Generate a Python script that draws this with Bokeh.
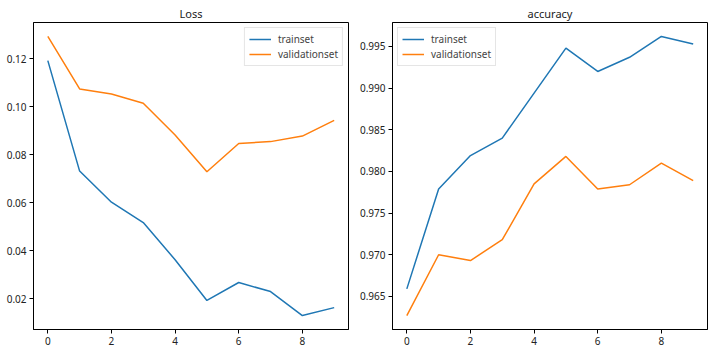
from bokeh.plotting import figure
from bokeh.layouts import row
from bokeh.models import FixedTicker, PrintfTickFormatter, Range1d, Legend, LegendItem
from bokeh.embed import file_html
from bokeh.resources import INLINE

epochs = [0, 1, 2, 3, 4, 5, 6, 7, 8, 9]
loss_train = [0.1193, 0.0732, 0.0602, 0.0517, 0.0362, 0.0192, 0.0267, 0.0229, 0.0129, 0.0162]
loss_val = [0.1294, 0.1075, 0.1054, 0.1015, 0.0883, 0.0729, 0.0847, 0.0855, 0.0878, 0.0944]
acc_train = [0.9659, 0.9779, 0.9819, 0.9840, 0.9894, 0.9948, 0.9920, 0.9937, 0.9962, 0.9953]
acc_val = [0.9627, 0.9700, 0.9693, 0.9718, 0.9785, 0.9818, 0.9779, 0.9784, 0.9810, 0.9789]
x_ticks = [0, 2, 4, 6, 8]
loss_ticks = [0.02, 0.04, 0.06, 0.08, 0.10, 0.12]
acc_ticks = [0.965, 0.970, 0.975, 0.980, 0.985, 0.990, 0.995]
series_names = ["trainset", "validationset"]
colors = ["#1f77b4", "#ff7f0e"]

FONT = "Noto Sans"


def make_panel(title, ys, yticks, fmt, legend_loc, width, bl, br):
    lo = min(min(s) for s in ys)
    hi = max(max(s) for s in ys)
    pad = (hi - lo) * 0.05
    p = figure(width=width, height=352, output_backend="svg", toolbar_location=None,
               title=title, x_range=Range1d(-0.45, 9.45), y_range=Range1d(lo - pad, hi + pad),
               min_border_left=bl, min_border_right=br, min_border_top=22, min_border_bottom=23)
    p.title.text_font = FONT
    p.title.text_font_size = "11px"
    p.title.text_font_style = "normal"
    p.title.align = "center"
    p.title.text_color = "#222222"
    p.title.standoff = 4
    p.xgrid.visible = False
    p.ygrid.visible = False
    p.outline_line_color = "black"
    p.outline_line_alpha = 1
    p.outline_line_width = 1
    p.background_fill_color = "white"
    p.border_fill_color = "white"
    items = []
    for name, s, c in zip(series_names, ys, colors):
        r = p.line(epochs, s, line_color=c, line_width=1.5)
        items.append(LegendItem(label=name, renderers=[r]))
    for ax in (p.xaxis[0], p.yaxis[0]):
        ax.axis_line_color = "black"
        ax.major_tick_line_color = "black"
        ax.minor_tick_line_color = None
        ax.major_tick_out = 4
        ax.major_tick_in = 0
        ax.major_label_standoff = 3
        ax.major_label_text_font = FONT
        ax.major_label_text_font_size = "10px"
        ax.major_label_text_color = "#222222"
    p.xaxis[0].ticker = FixedTicker(ticks=x_ticks)
    p.yaxis[0].ticker = FixedTicker(ticks=yticks)
    p.yaxis[0].formatter = PrintfTickFormatter(format=fmt)
    leg = Legend(items=items, location=legend_loc)
    leg.margin = 5
    leg.padding = 4
    leg.spacing = 1
    leg.glyph_width = 22
    leg.glyph_height = 12
    leg.label_height = 12
    leg.label_standoff = 7
    leg.label_text_font = FONT
    leg.label_text_font_size = "10px"
    leg.border_line_color = "#cccccc"
    leg.background_fill_alpha = 0.8
    p.add_layout(leg, "center")
    return p


p1 = make_panel("Loss", [loss_train, loss_val], loss_ticks, "%.2f", "top_right", 356, 33, 8)
p2 = make_panel("accuracy", [acc_train, acc_val], acc_ticks, "%.3f", "top_left", 356, 34, 5)
layout = row(p1, p2)

open("out.html", "w").write(file_html(layout, INLINE))
